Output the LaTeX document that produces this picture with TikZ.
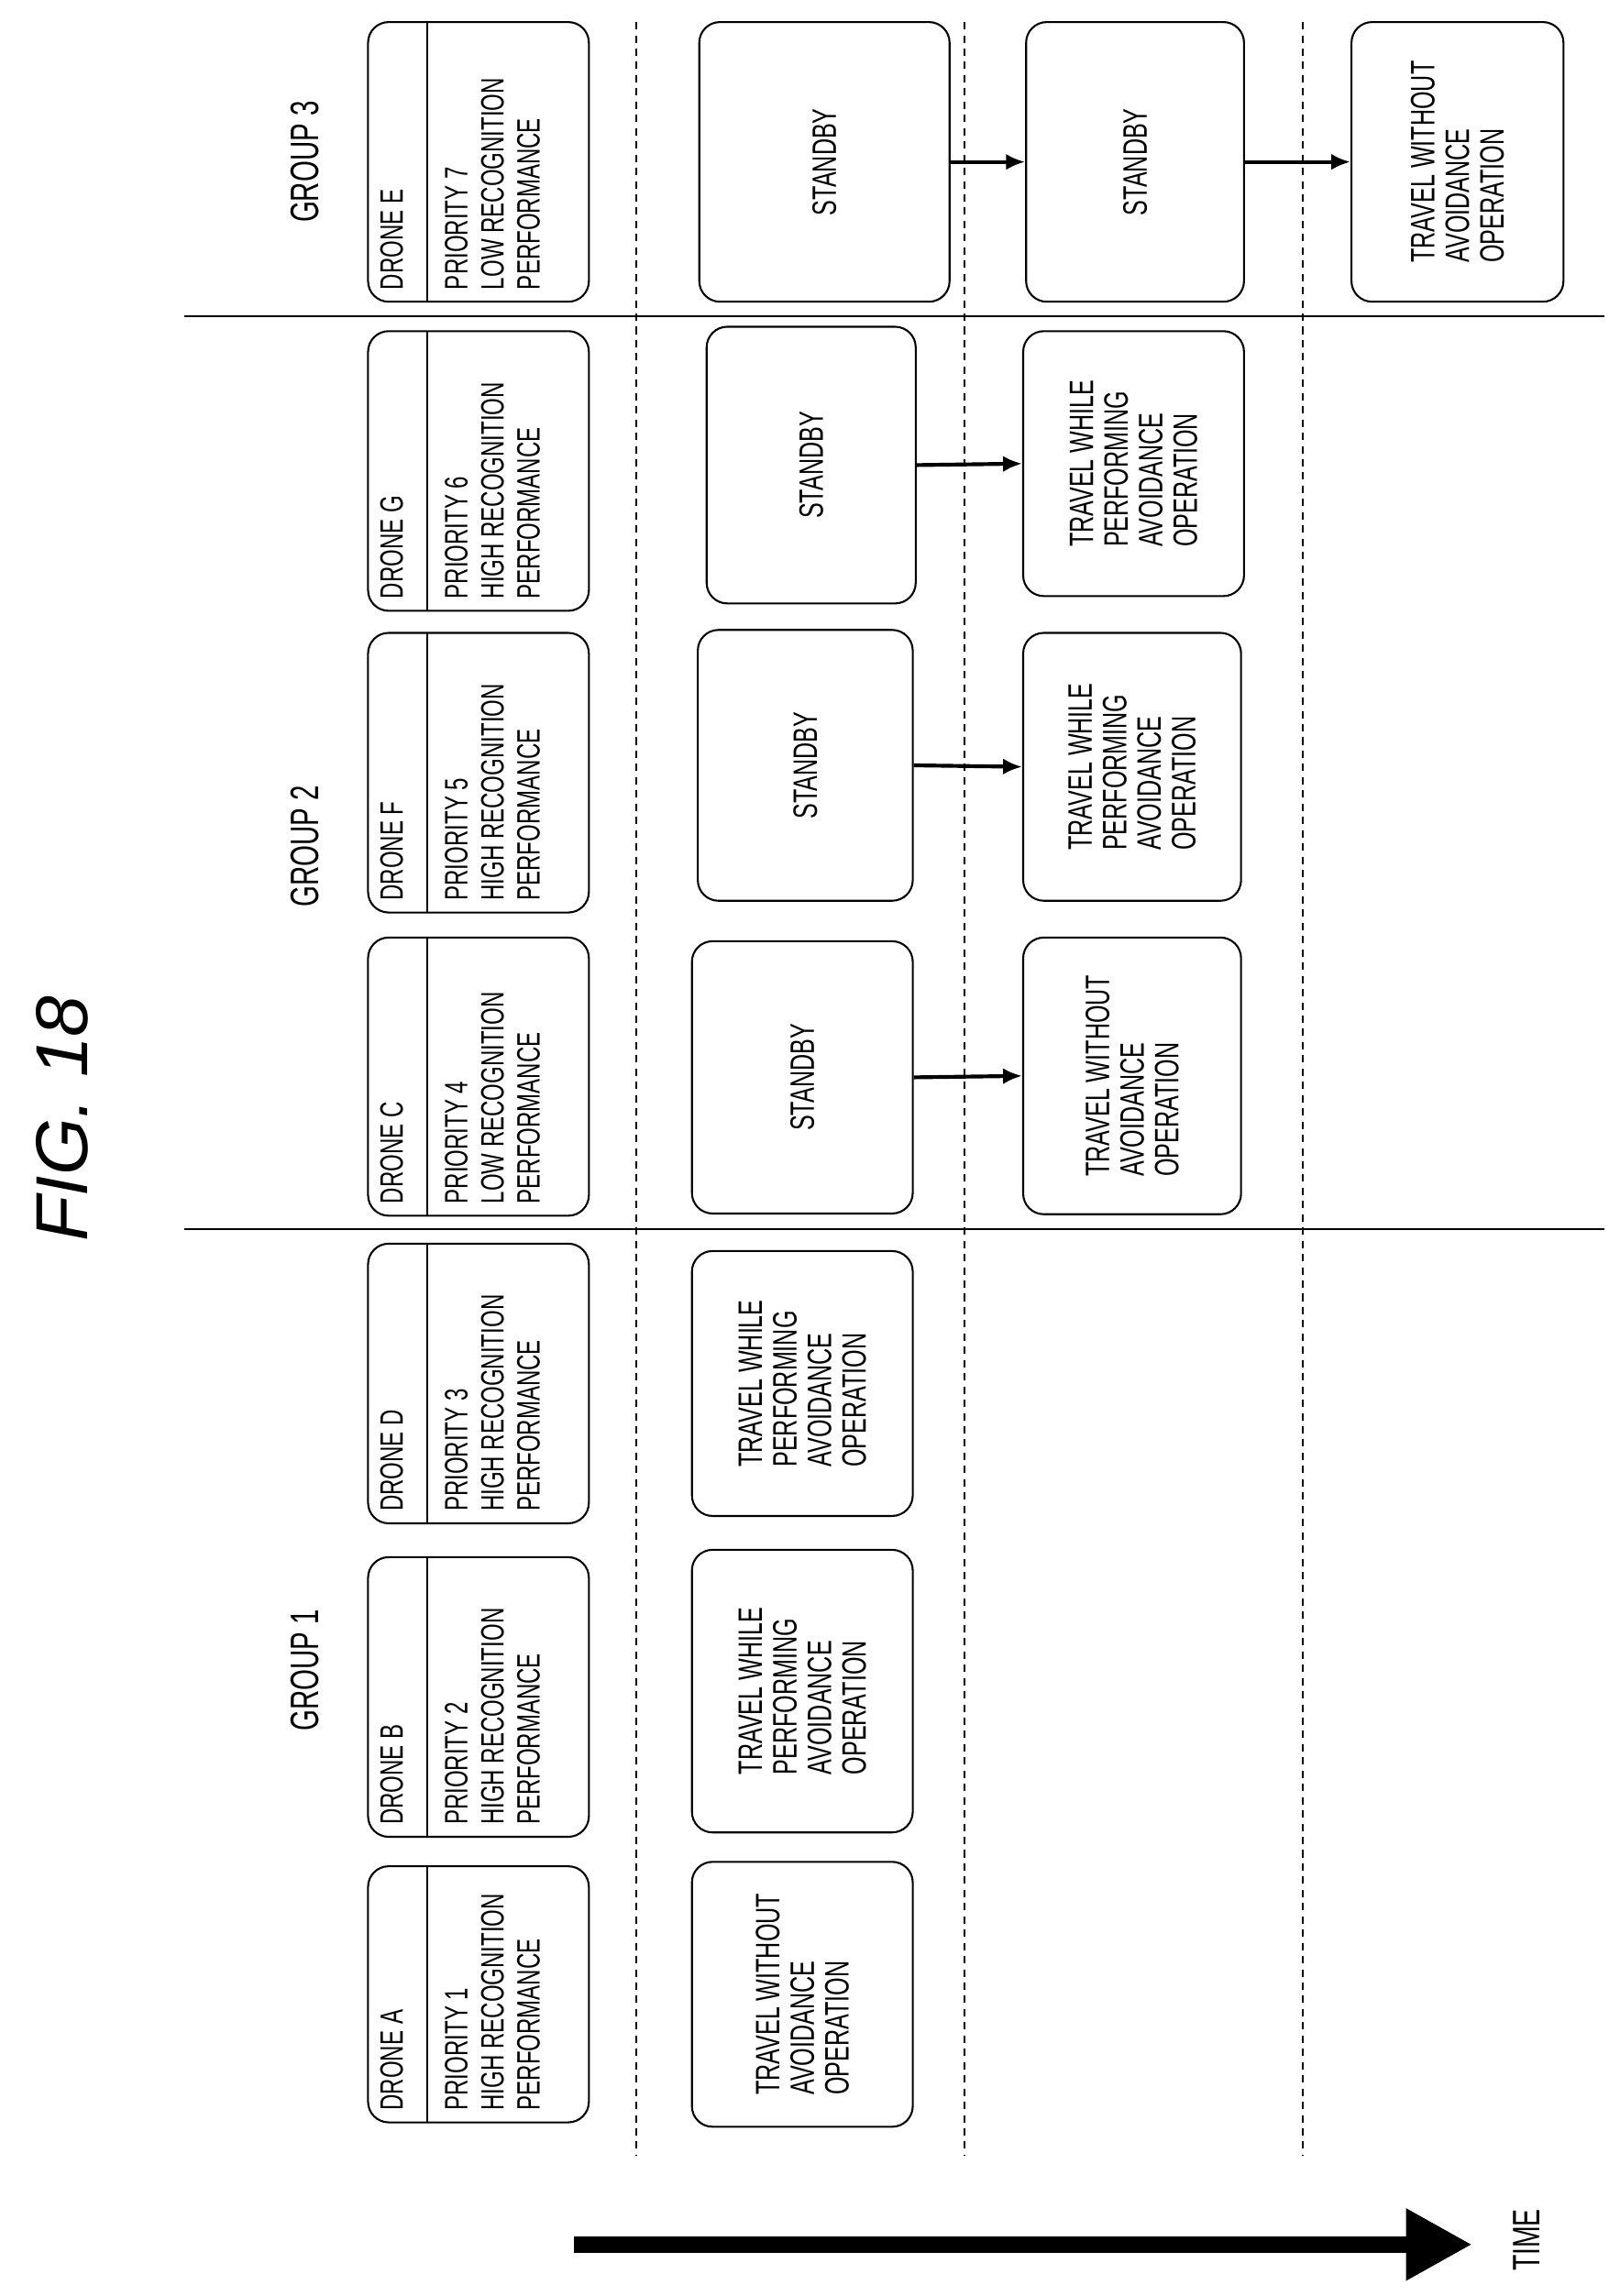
\documentclass[tikz,border=0pt]{standalone}
\usepackage{fontspec}
\setmainfont[FakeStretch=0.68]{Liberation Sans}
\newfontfamily\titlefont{Liberation Sans}
\usetikzlibrary{arrows.meta}
\begin{document}
\begin{tikzpicture}[x=1pt,y=-1pt,
  bx/.style={draw,line width=1.3pt,rounded corners=14pt},
  tx/.style={rotate=90,font=\fontsize{22}{24.5}\selectfont,align=left,inner sep=0pt},
  sx/.style={rotate=90,font=\fontsize{23}{23.5}\selectfont,align=left,inner sep=0pt},
  dl/.style={dash pattern=on 5pt off 4pt,line width=1pt},
  sl/.style={line width=1.5pt},
  ar/.style={line width=2.6pt,-{Latex[length=13pt,width=11pt]}}]
\useasboundingbox (0,0) rectangle (1100,1560);
\node[rotate=90,font=\titlefont\itshape\fontsize{50}{50}\selectfont] (fig) at (42,760) {FIG. 18};
\node[tx,font=\fontsize{27}{28}\selectfont] (g1) at (207,1135) {GROUP 1};
\node[tx,font=\fontsize{27}{28}\selectfont] (g2) at (207,575) {GROUP 2};
\node[tx,font=\fontsize{27}{28}\selectfont] (g3) at (207,110) {GROUP 3};
% separators
\draw[sl] (125,835) -- (1090,835);
\draw[sl] (125,215) -- (1090,215);
\draw[dl] (432,15) -- (432,1465);
\draw[dl] (655,15) -- (655,1465);
\draw[dl] (885,15) -- (885,1465);
% drone boxes
\foreach \nm/\ya/\yb/\pr/\perf in {A/1268/1442/1/HIGH,B/1058/1248/2/HIGH,D/845/1035/3/HIGH,C/637/826/4/LOW,F/430/620/5/HIGH,G/225/415/6/HIGH,E/15/205/7/LOW}{
  \draw[bx] (250,\ya) rectangle (400,\yb);
  \draw[line width=1.3pt] (290,\ya) -- (290,\yb);
  \node[tx,anchor=north west] (dn\nm) at (258,\yb-8) {DRONE \nm};
  \node[tx,anchor=north west] (dp\nm) at (302,\yb-8) {PRIORITY \pr\\\perf\ RECOGNITION\\PERFORMANCE};
}
% state boxes
\def\tw{TRAVEL WITHOUT\\AVOIDANCE\\OPERATION}
\def\tp{TRAVEL WHILE\\PERFORMING\\AVOIDANCE\\OPERATION}
\node[bx,sx,minimum height=150pt,minimum width=180pt] (a2) at (545,1355) {\tw};
\node[bx,sx,minimum height=150pt,minimum width=192pt] (b2) at (545,1149) {\tp};
\node[bx,sx,minimum height=150pt,minimum width=180pt] (d2) at (545,940) {\tp};
\node[bx,sx,minimum height=150pt,minimum width=185pt] (c2) at (545,732) {STANDBY};
\node[bx,sx,minimum height=146pt,minimum width=184pt] (f2) at (547,520) {STANDBY};
\node[bx,sx,minimum height=142pt,minimum width=188pt] (gg2) at (551,316) {STANDBY};
\node[bx,sx,minimum height=170pt,minimum width=190pt] (e2) at (560,110) {STANDBY};
\node[bx,sx,minimum height=148pt,minimum width=188pt] (c3) at (769,731) {\tw};
\node[bx,sx,minimum height=148pt,minimum width=182pt] (f3) at (769,521) {\tp};
\node[bx,sx,minimum height=150pt,minimum width=180pt] (gg3) at (770,315) {\tp};
\node[bx,sx,minimum height=148pt,minimum width=190pt] (e3) at (771,110) {STANDBY};
\node[bx,sx,minimum height=144pt,minimum width=190pt] (e4) at (990,110) {\tw};
\draw[ar] (c2.south) -- (c3.north);
\draw[ar] (f2.south) -- (f3.north);
\draw[ar] (gg2.south) -- (gg3.north);
\draw[ar] (e2.south) -- (e3.north);
\draw[ar] (e3.south) -- (e4.north);
% time arrow
\coordinate (t0) at (390,1525);
\coordinate (t1) at (1000,1525);
\node[rotate=90,font=\fontsize{26}{28}\selectfont,anchor=center] (time) at (1037,1522) {TIME};
\draw[line width=11pt,-{Triangle[length=45pt,width=46pt]}] (t0) -- (t1);
\end{tikzpicture}
\end{document}
